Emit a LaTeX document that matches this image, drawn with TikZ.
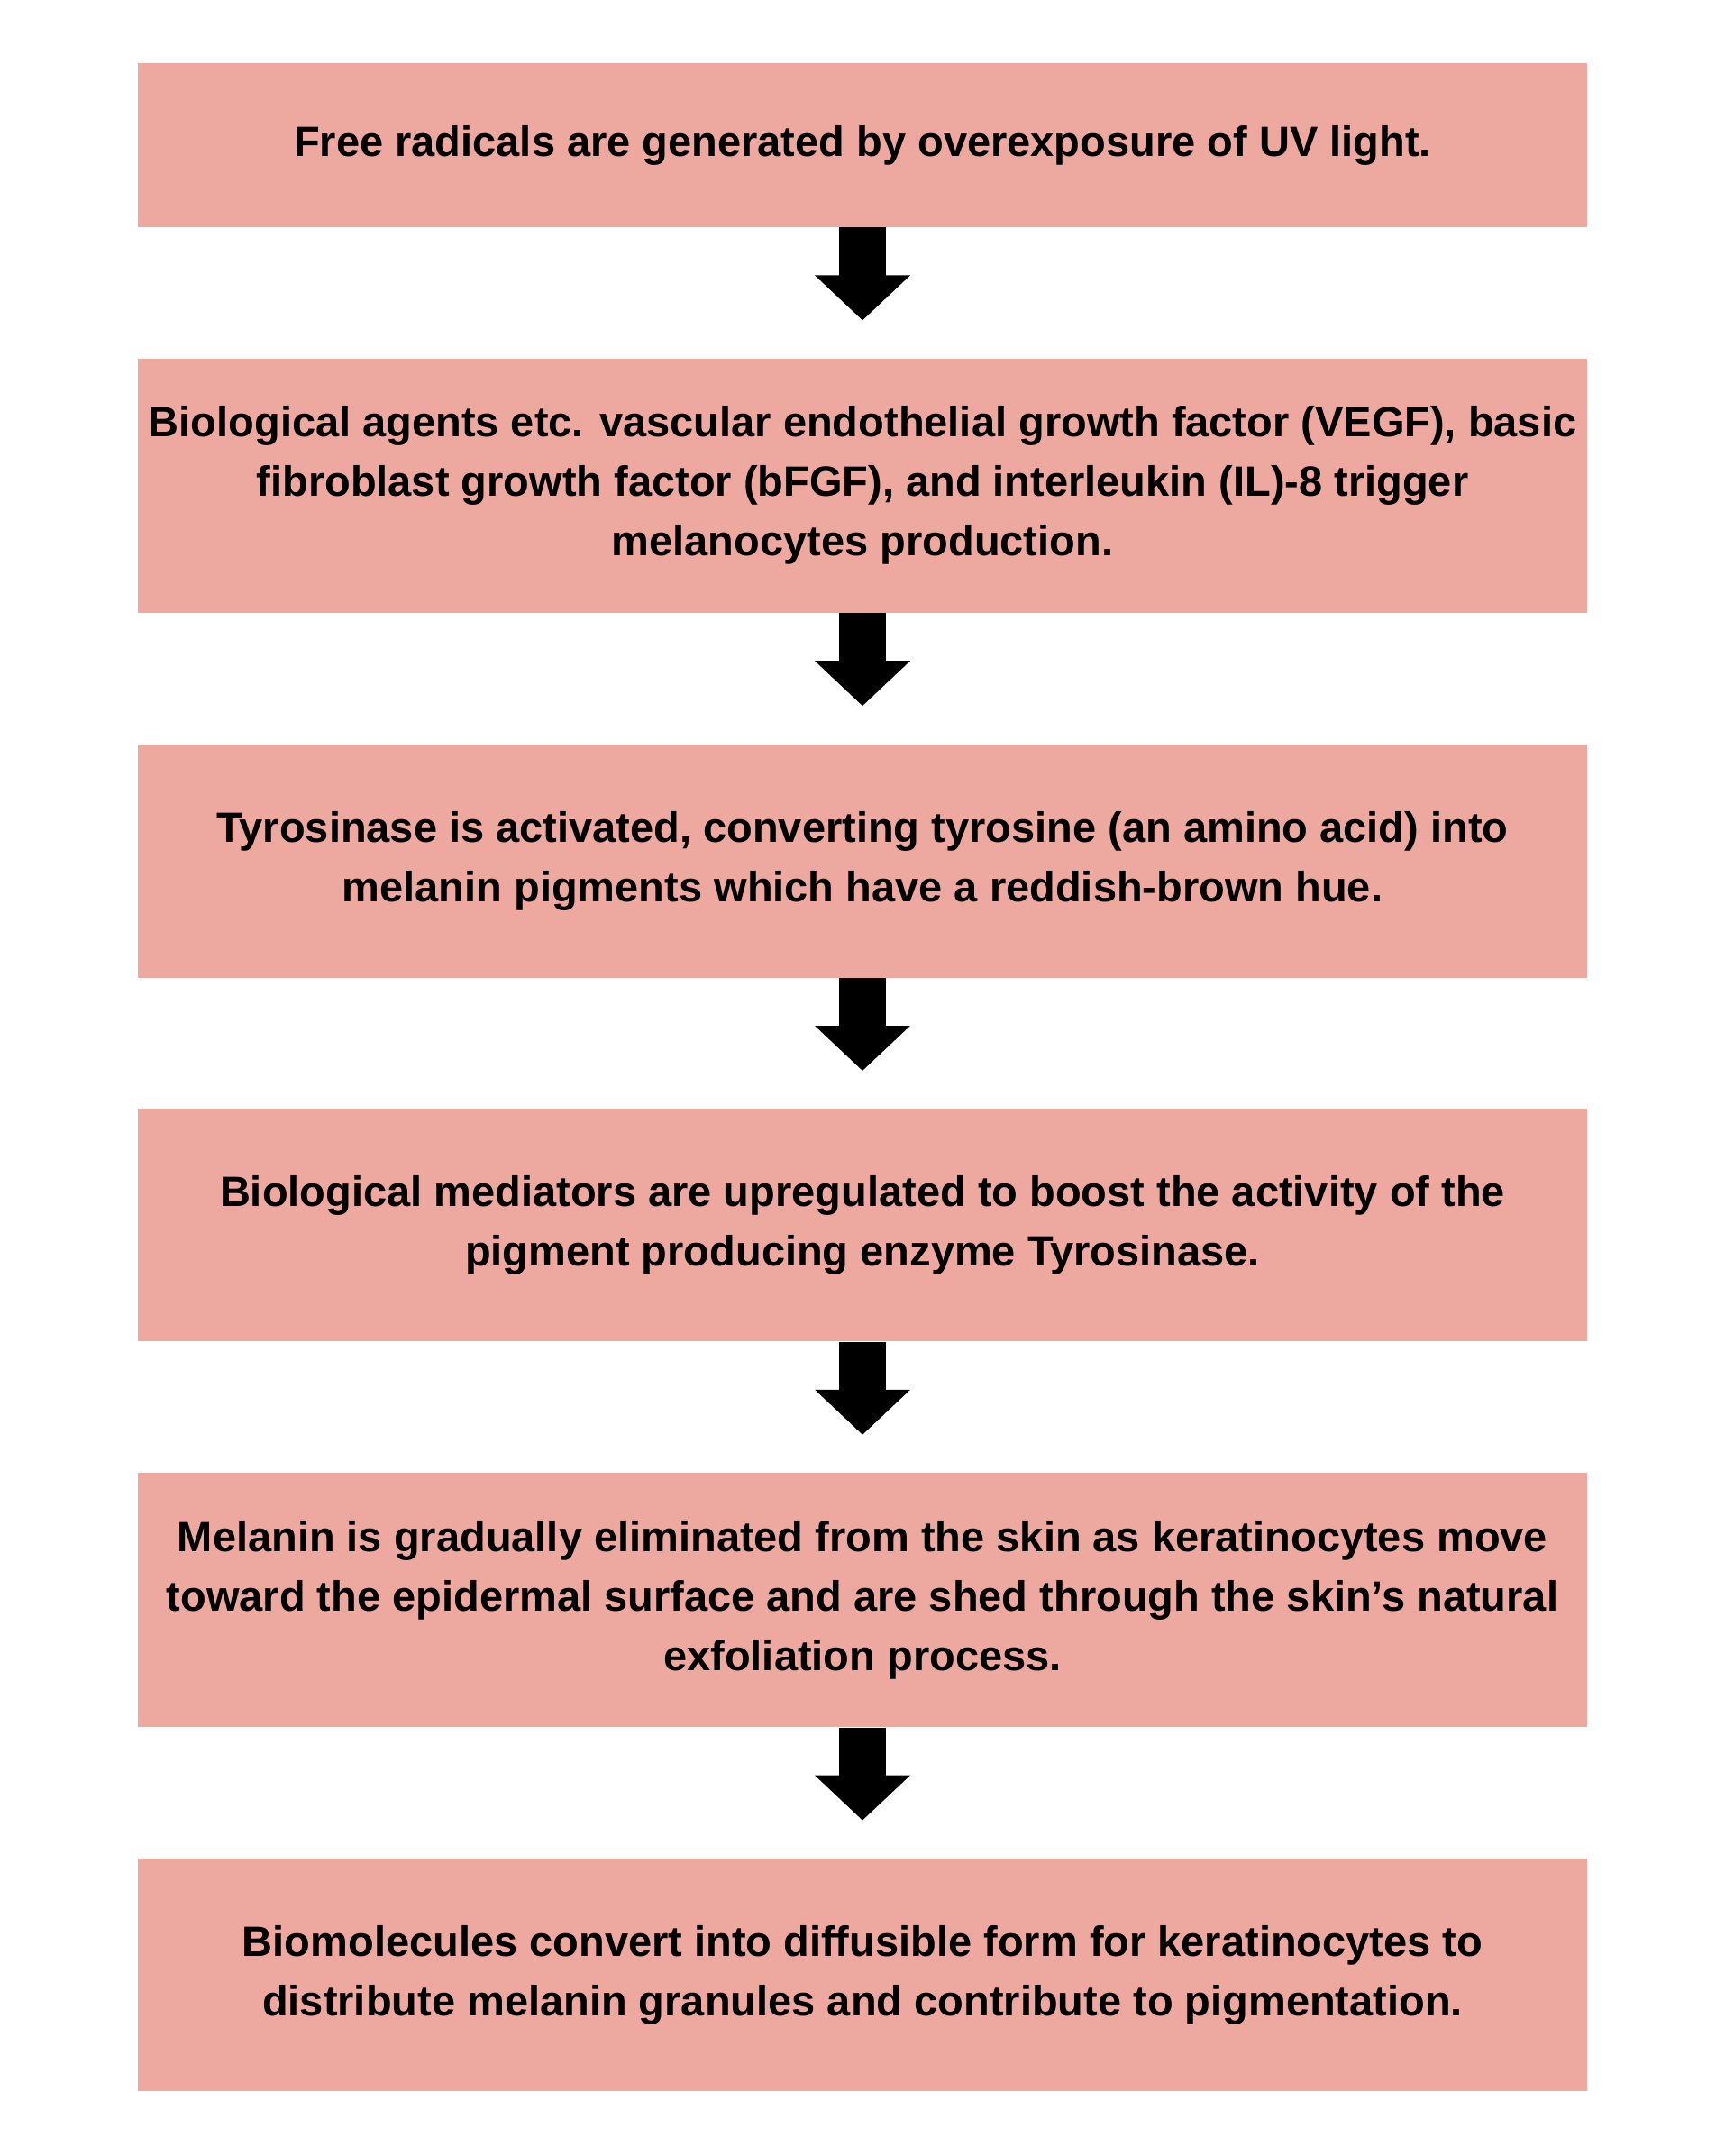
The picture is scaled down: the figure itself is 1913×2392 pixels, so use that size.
\documentclass[tikz,border=0pt]{standalone}
\usepackage{fontspec}
\setmainfont{Liberation Sans}
\usepackage{xcolor}
\usepackage{tikz}
\usetikzlibrary{positioning,arrows.meta}
\definecolor{rosebox}{RGB}{237,168,160}
\tikzset{
  stepbox/.style ={fill=rosebox, draw=none, align=center, minimum width=804pt,
                   font=\bfseries\fontsize{23.5}{33}\selectfont, inner sep=3pt},
  downar/.style  ={-{Triangle[length=25pt,width=51.5pt]}, line width=26pt, black},
}
\begin{document}
\begin{tikzpicture}[x=0.5pt,y=0.5pt,node distance=72.5pt]
\useasboundingbox (0,0) rectangle (1913,-2392);
% process boxes
\node[stepbox,minimum height=91pt] (radicals) at (957,-161)
  {Free radicals are generated by overexposure of UV light.};
\node[stepbox,minimum height=141pt,below=of radicals] (agents)
  {Biological agents etc. vascular endothelial growth factor (VEGF), basic\\
   fibroblast growth factor (bFGF), and interleukin (IL)-8 trigger\\
   melanocytes production.};
\node[stepbox,minimum height=129.5pt,below=of agents] (tyrosinase)
  {Tyrosinase is activated, converting tyrosine (an amino acid) into\\
   melanin pigments which have a reddish-brown hue.};
\node[stepbox,minimum height=129pt,below=of tyrosinase] (mediators)
  {Biological mediators are upregulated to boost the activity of the\\
   pigment producing enzyme Tyrosinase.};
\node[stepbox,minimum height=141pt,below=of mediators] (melanin)
  {Melanin is gradually eliminated from the skin as keratinocytes move\\
   toward the epidermal surface and are shed through the skin’s natural\\
   exfoliation process.};
\node[stepbox,minimum height=129pt,below=of melanin] (biomol)
  {Biomolecules convert into diffusible form for keratinocytes to\\
   distribute melanin granules and contribute to pigmentation.};

% block arrows between boxes
\foreach \a/\b in {radicals/agents, agents/tyrosinase, tyrosinase/mediators,
                   mediators/melanin, melanin/biomol}{
  \draw[downar] (\a.south) -- ([yshift=21pt]\b.north);
}
\end{tikzpicture}
\end{document}
